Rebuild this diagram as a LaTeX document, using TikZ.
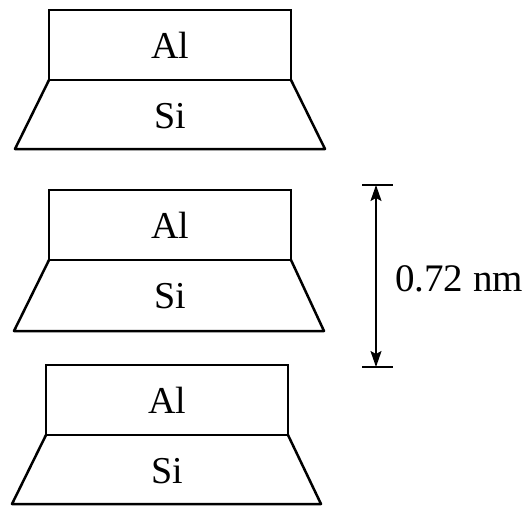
\documentclass[tikz,border=0pt]{standalone}
\usepackage{fontspec}
\setmainfont{Liberation Serif}
\usepackage{tikz}
\usetikzlibrary{
  arrows.meta,
  positioning
}
\tikzset{
  alblock/.style  = {draw, line width=2.5pt, minimum width=242pt,
                     minimum height=70pt, inner sep=0pt, outer sep=0pt,
                     font=\fontsize{38}{42}\selectfont},
  siedge/.style   = {line width=2.5pt, line join=round},
  silabel/.style  = {inner sep=0pt, font=\fontsize{38}{42}\selectfont},
  tick/.style     = {line width=1.3pt},
  dimarrow/.style = {{Stealth[length=16pt,width=11pt,inset=3pt]}-{Stealth[length=16pt,width=11pt,inset=3pt]},
                     line width=1.6pt},
}

\begin{document}
\begin{tikzpicture}[x=1pt, y=-1pt]
\useasboundingbox (0,0) rectangle (529,511);

% ========== Layer stack ==========
\node[alblock] (al1) at (170,45) {Al};
\draw[siedge] (al1.south west) -- ++(-34,69) -- ++(310,0) -- (al1.south east);
\node[silabel] (si1) at ([yshift=-36pt]al1.south) {Si};

\node[alblock] (al2) at (170,225) {Al};
\draw[siedge] (al2.south west) -- ++(-35,71) -- ++(310,0) -- (al2.south east);
\node[silabel] (si2) at ([yshift=-36pt]al2.south) {Si};

\node[alblock] (al3) at (167,400) {Al};
\draw[siedge] (al3.south west) -- ++(-34,69) -- ++(309,0) -- (al3.south east);
\node[silabel] (si3) at ([yshift=-36pt]al3.south) {Si};

% ========== Period ==========
\coordinate (dtop) at (376,185);
\coordinate (dbot) at (376,367);
\draw[tick] ([xshift=-14pt]dtop) -- ([xshift=17pt]dtop);
\draw[tick] ([xshift=-14pt]dbot) -- ([xshift=17pt]dbot);
\draw[dimarrow] (dtop) -- (dbot);

\node[anchor=west, inner sep=0pt, font=\fontsize{39}{42}\selectfont]
  (period) at (395,279) {0.72 nm};

\end{tikzpicture}
\end{document}
